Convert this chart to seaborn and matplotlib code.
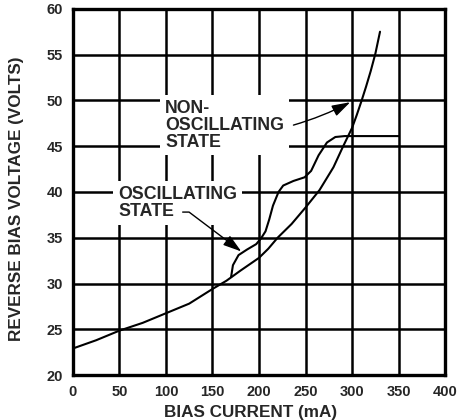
import matplotlib
matplotlib.use("Agg")
import matplotlib.pyplot as plt
import seaborn as sns
import pandas as pd

# ---- data ----
x_ticks = [0, 50, 100, 150, 200, 250, 300, 350, 400]
y_ticks = [20, 25, 30, 35, 40, 45, 50, 55, 60]

boundary_current = [0, 25, 50, 75, 100, 125, 150, 165, 180, 200, 210, 220,
                    235, 250, 265, 280, 290, 300, 305, 310, 315, 320, 325, 330]
boundary_voltage = [22.9, 23.8, 24.85, 25.7, 26.75, 27.8, 29.4, 30.3, 31.4, 32.8,
                    33.8, 35.0, 36.5, 38.3, 40.2, 42.7, 44.9, 47.0, 48.4, 49.9,
                    51.5, 53.2, 55.1, 57.5]

osc_current = [170, 172, 178, 187, 197, 202, 207, 211, 215, 221, 226, 237, 249,
               256, 264, 273, 282, 292, 350]
osc_voltage = [30.7, 32.0, 33.1, 33.7, 34.3, 34.9, 35.7, 37.0, 38.5, 40.0, 40.7,
               41.2, 41.6, 42.3, 44.0, 45.4, 46.0, 46.1, 46.1]

x_label = "BIAS CURRENT (mA)"
y_label = "REVERSE BIAS VOLTAGE (VOLTS)"
note_non = "NON-\nOSCILLATING\nSTATE"
note_osc = "OSCILLATING\nSTATE"

df_b = pd.DataFrame({"current": boundary_current, "voltage": boundary_voltage})
df_o = pd.DataFrame({"current": osc_current, "voltage": osc_voltage})

sns.set_style("white")
plt.rcParams["font.family"] = ["Liberation Sans", "DejaVu Sans"]
plt.rcParams["font.weight"] = "bold"

fig = plt.figure(figsize=(4.58, 4.2), dpi=100)
ax = fig.add_axes([0.159, 0.107, 0.813, 0.872])

sns.lineplot(data=df_b, x="current", y="voltage", sort=False, estimator=None,
             color="black", linewidth=1.5, ax=ax, zorder=3)
sns.lineplot(data=df_o, x="current", y="voltage", sort=False, estimator=None,
             color="black", linewidth=1.5, ax=ax, zorder=3)

ax.set_xlim(0, 400)
ax.set_ylim(20, 60)
ax.set_xticks(x_ticks)
ax.set_yticks(y_ticks)
ax.set_xticklabels([str(v) for v in x_ticks], fontsize=10.5, fontweight="bold")
ax.set_yticklabels([str(v) for v in y_ticks], fontsize=10.5, fontweight="bold")
ax.tick_params(length=0, pad=7)
ax.grid(True, color="black", linewidth=1.8)
ax.set_axisbelow(True)
for s in ax.spines.values():
    s.set_visible(True)
    s.set_color("black")
    s.set_linewidth(2.4)

ax.set_xlabel(x_label, fontsize=12.3, fontweight="bold")
ax.set_ylabel(y_label, fontsize=12.3, fontweight="bold")
ax.xaxis.set_label_coords(0.476, -0.082)
ax.yaxis.set_label_coords(-0.13, 0.481)

bbox = dict(facecolor="white", edgecolor="none", pad=3.5)
ax.text(99, 47.3, note_non, fontsize=12.8, fontweight="bold", ha="left",
        va="center", linespacing=1.0, bbox=bbox, zorder=4)
ax.text(48.5, 38.8, note_osc, fontsize=12.8, fontweight="bold", ha="left",
        va="center", linespacing=1.0, bbox=bbox, zorder=4)

arrow = dict(arrowstyle="-|>,head_length=0.8,head_width=0.25", color="black",
             lw=1.0, mutation_scale=14, shrinkA=0, shrinkB=0)
ax.annotate("", xy=(298, 49.8), xytext=(237, 47.3),
            arrowprops=dict(arrow, connectionstyle="arc3,rad=0.05"), zorder=5)
ax.annotate("", xy=(181, 33.5), xytext=(118, 37.8),
            arrowprops=dict(arrow, connectionstyle="angle,angleA=0,angleB=-37,rad=0"),
            zorder=5)

fig.savefig("out.png", dpi=100, facecolor="white")
